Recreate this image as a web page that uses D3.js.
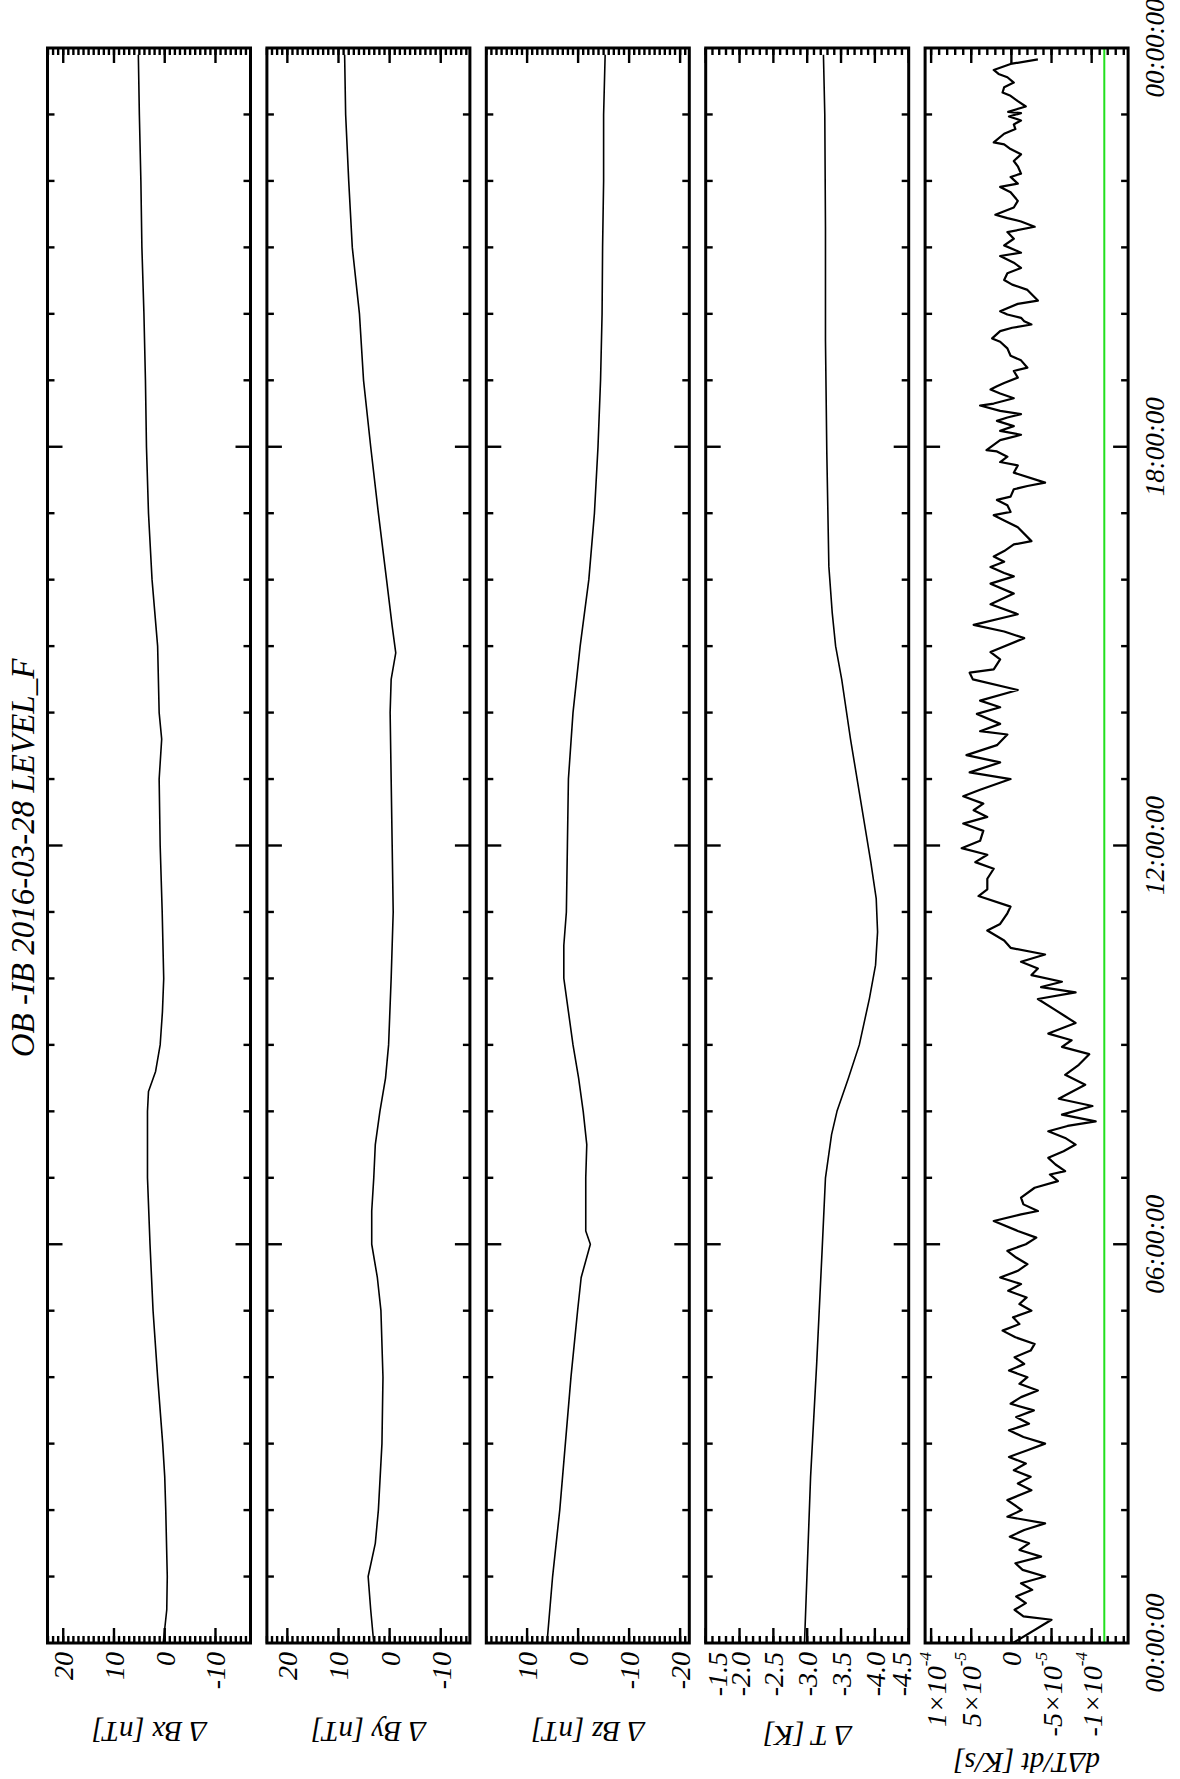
<!DOCTYPE html>
<html><head><meta charset="utf-8">
<script src="https://cdn.jsdelivr.net/npm/d3@7"></script>
<style>
body{margin:0;background:#fff}
svg{display:block}
text{font-family:"Liberation Serif","Times New Roman",serif;font-style:italic;fill:#000}
</style>
</head><body>
<svg id="c" width="1180" height="1779"></svg>
<script>
// ---------------- data ----------------
const titleText = "OB -IB  2016-03-28 LEVEL_F";
const timeTickHours = [0, 6, 12, 18, 24];
const timeTickLabels = ["00:00:00", "06:00:00", "12:00:00", "18:00:00", "00:00:00"];

const bxHours  = [0,0.5,1,2,2.5,3,4,5,6,7,8,8.3,8.6,9,9.5,10,11,12,13,13.6,14,15,16,17,18,19,20,21,22,23,23.9];
const bxValues = [0.3,-0.4,-0.5,-0.2,0,0.4,1.4,2.3,2.9,3.4,3.4,3.2,1.8,0.9,0.45,0.2,0.5,0.9,1.1,0.6,1.1,1.4,2.5,3.2,3.6,3.8,4.1,4.5,4.7,5.0,5.2];

const byHours  = [0,0.5,1,1.5,2,3,4,5,5.5,6,6.5,7,7.5,8,8.5,9,10,11,12,13,14,14.5,14.9,15.3,16,17,18,19,20,21,22,23,23.9];
const byValues = [3.1,3.7,4.2,2.8,2.2,1.5,1.3,1.7,2.4,3.5,3.5,3.1,2.8,1.9,0.8,0.2,-0.3,-0.7,-0.5,-0.3,-0.1,-0.3,-1.2,-0.5,0.6,2.2,3.7,5.1,5.9,7.3,8.0,8.6,8.8];

const bzHours  = [0,1,2,3,4,5,5.5,6,6.2,7,7.5,8,8.5,9,9.5,10,10.5,11,12,13,14,15,16,17,18,19,20,21,22,23,23.9];
const bzValues = [6.1,5.0,3.6,2.5,1.4,0.1,-0.6,-2.4,-1.5,-1.5,-1.7,-1.0,-0.1,1.0,1.9,2.8,2.8,2.3,2.1,1.9,1.0,-0.4,-2.1,-3.2,-3.9,-4.4,-4.7,-4.8,-5.0,-5.0,-5.3];

const tHours  = [0,2.5,4.2,5.9,7,7.65,8,8.5,9,9.7,10.2,10.7,11.2,11.75,12.8,13.6,14.5,15,15.5,16.2,17.9,19.6,21.3,23,23.9];
const tValues = [-2.96,-3.05,-3.14,-3.22,-3.27,-3.36,-3.44,-3.61,-3.77,-3.92,-4.01,-4.04,-4.02,-3.94,-3.77,-3.64,-3.51,-3.42,-3.37,-3.32,-3.29,-3.27,-3.27,-3.26,-3.24];

// dT/dt in units of 1e-5 K/s
const dtScaleUnit = 1e-5;
const dtHours = [0,0.35,0.4,0.5,0.6,0.7,0.8,0.9,1.0,1.1,1.2,1.3,1.4,1.5,1.6,1.7,1.8,1.9,2.0,2.15,2.3,2.4,2.5,2.6,2.7,2.8,2.9,3.0,3.1,3.2,3.3,3.4,3.5,3.6,3.7,3.8,3.9,4.0,4.1,4.2,4.3,4.4,4.5,4.6,4.7,4.8,4.9,5.0,5.1,5.2,5.3,5.4,5.5,5.6,5.7,5.8,5.9,6.0,6.1,6.2,6.35,6.45,6.5,6.6,6.7,6.85,6.95,7.05,7.1,7.2,7.3,7.4,7.5,7.6,7.7,7.78,7.85,7.95,8.08,8.19,8.4,8.55,8.7,8.86,8.97,9.07,9.17,9.33,9.43,9.53,9.69,9.79,9.87,9.95,10.05,10.15,10.25,10.36,10.46,10.57,10.72,10.82,10.98,11.08,11.24,11.34,11.5,11.65,11.75,11.86,11.96,12.07,12.22,12.33,12.43,12.53,12.63,12.74,12.84,13.0,13.1,13.25,13.36,13.51,13.67,13.72,13.83,13.98,14.08,14.18,14.34,14.5,14.6,14.65,14.8,14.91,15.12,15.22,15.32,15.48,15.63,15.79,15.94,16.05,16.1,16.19,16.27,16.35,16.43,16.53,16.58,16.79,16.89,16.97,17.02,17.12,17.2,17.25,17.36,17.41,17.46,17.61,17.72,17.77,17.85,17.93,17.95,18.1,18.18,18.24,18.31,18.39,18.44,18.49,18.54,18.62,18.65,18.73,18.8,18.86,18.91,18.96,19.04,19.14,19.19,19.3,19.37,19.48,19.58,19.63,19.74,19.79,19.84,19.89,19.94,19.99,20.04,20.15,20.2,20.36,20.44,20.51,20.61,20.69,20.77,20.87,20.92,21.03,21.13,21.23,21.31,21.39,21.44,21.49,21.6,21.7,21.83,21.91,21.96,22.06,22.11,22.22,22.3,22.4,22.48,22.55,22.58,22.71,22.78,22.85,22.91,22.97,23.02,23.04,23.12,23.2,23.28,23.33,23.41,23.48,23.56,23.61,23.67,23.76,23.83];
const dtValues = [-0.2,-5.0,-1.5,-0.4,-1.8,-0.6,-2.6,-1.2,-4.2,-1.4,-0.5,-3.7,-1.0,-2.2,0.2,-1.6,-4.2,0.5,-1.3,0.5,-2.5,-0.8,-2.4,-0.3,-1.8,0.3,-2.0,-4.2,-1.5,0.3,-2.2,-0.6,-2.8,0.1,-1.2,-3.3,-1.0,-2.0,0.3,-1.6,-0.4,-2.4,-2.9,-0.5,1.1,-1.0,-0.2,-2.5,-1.0,-1.9,0.4,-1.2,1.4,-0.8,-2.0,-0.6,0.5,-1.8,-3.1,-0.8,2.2,-1.2,-3.3,-1.5,-1.2,-2.9,-5.8,-4.8,-6.7,-5.5,-4.6,-6.5,-8.0,-6.7,-4.6,-7.0,-10.5,-6.3,-10.1,-5.9,-9.2,-6.7,-8.4,-9.7,-6.3,-7.5,-4.6,-8.0,-6.7,-5.4,-3.3,-8.0,-3.7,-6.3,-2.5,-3.3,-1.2,-4.2,0.1,0.9,3.0,1.4,0.5,0.1,4.1,3.0,3.0,2.2,4.5,3.0,6.2,3.9,3.5,6.0,3.0,4.7,3.5,6.0,3.9,0.1,5.2,1.4,5.6,1.8,0.5,3.9,1.4,4.3,1.4,3.9,-0.8,4.8,5.2,2.2,1.4,2.6,-1.6,0.9,4.7,-0.8,2.6,-0.3,2.6,-0.3,0.9,2.6,0.9,2.2,0.9,-0.3,-2.5,-0.8,0.9,2.2,0.1,0.5,1.8,0.1,-0.3,-2.0,-4.2,-0.3,-0.8,1.4,0.5,1.8,3.1,1.4,-1.2,1.4,-0.3,1.8,0.5,-1.2,1.4,3.9,2.2,-0.3,1.4,2.6,1.8,0.9,-0.8,-0.3,-2.0,-1.2,0.1,0.5,1.4,2.4,1.4,-0.1,-2.5,-1.6,-1.2,0.5,1.4,-0.8,-3.3,-2.0,-0.1,0.9,0.5,-1.2,-0.3,1.4,-1.2,0.9,-0.3,0.5,-2.9,-1.2,0.5,2.0,-0.3,-0.8,0.1,1.4,-0.8,0.1,-1.2,-0.8,-0.3,-1.2,0.1,0.9,2.2,0.9,-0.5,-0.3,-1.2,0.3,-1.2,0.4,-1.8,-0.8,0.1,1.1,0.9,-0.3,0.5,1.6,2.2,0.1,-3.3];
const dtThreshold = -10 / 86400; // -10 K/day

// y-axis ranges, tick values and labels
const bxDomain = [-16.9, 23.1], byDomain = [-15.7, 24.0], bzDomain = [-21.8, 18.0];
const tDomain = [-4.5, -1.5], dtDomain = [-1.454e-4, 1.075e-4];
const bxTicks = [20, 10, 0, -10], byTicks = [20, 10, 0, -10], bzTicks = [10, 0, -10, -20];
const tTicks = [-1.5, -2.0, -2.5, -3.0, -3.5, -4.0, -4.5];
const tTickLabels = ["-1.5", "-2.0", "-2.5", "-3.0", "-3.5", "-4.0", "-4.5"];
const dtTicks = [1e-4, 5e-5, 0, -5e-5, -1e-4];
const dtTickMant = ["1×10", "5×10", "0", "-5×10", "-1×10"];
const dtTickExp  = ["-4", "-5", "", "-5", "-4"];
const yTitles = ["Δ Bx [nT]", "Δ By [nT]", "Δ Bz [nT]", "Δ T [K]", "dΔT/dt [K/s]"];

// ---------------- layout ----------------
const W = 1779, H = 1180;           // landscape frame, rotated onto the page
const xL = 136, xR = 1731;
const panelTop0 = 47.5, panelStep = 219.4, panelH = 203;

const svg = d3.select("#c");
const root = svg.append("g").attr("transform", `translate(0,${W}) rotate(-90)`);
const x = d3.scaleLinear().domain([0, 24]).range([xL, xR]);

root.append("text").attr("x", 921).attr("y", 34).attr("text-anchor", "middle")
  .attr("font-size", 33).text(titleText);

function stepTicks(dom, step) {
  const lo = Math.min(dom[0], dom[1]), hi = Math.max(dom[0], dom[1]);
  return d3.range(Math.ceil(lo / step - 1e-9), Math.floor(hi / step + 1e-9) + 1).map(k => k * step);
}

const panels = [
  {hours: bxHours, vals: bxValues, domain: bxDomain, major: bxTicks, labels: bxTicks.map(String), minor: 1, titleX: 57, lw: 1.6},
  {hours: byHours, vals: byValues, domain: byDomain, major: byTicks, labels: byTicks.map(String), minor: 1, titleX: 57, lw: 1.6},
  {hours: bzHours, vals: bzValues, domain: bzDomain, major: bzTicks, labels: bzTicks.map(String), minor: 1, titleX: 57, lw: 1.6},
  {hours: tHours, vals: tValues, domain: tDomain, major: tTicks, labels: tTickLabels, minor: 0.1, titleX: 53, lw: 1.6},
  {hours: dtHours, vals: dtValues.map(v => v * dtScaleUnit), domain: dtDomain, major: dtTicks, labels: dtTickMant, exps: dtTickExp, minor: 1e-5, titleX: 26, lw: 2.2}
];

panels.forEach((p, i) => {
  const top = panelTop0 + i * panelStep, bot = top + panelH;
  const y = d3.scaleLinear().domain(p.domain).range([bot, top]);
  const g = root.append("g");
  const clipId = "clip" + i;
  g.append("clipPath").attr("id", clipId).append("rect")
    .attr("x", xL).attr("y", top).attr("width", xR - xL).attr("height", panelH);

  if (i === 4) {
    g.append("line").attr("x1", xL).attr("x2", xR).attr("y1", y(dtThreshold)).attr("y2", y(dtThreshold))
      .attr("stroke", "#22e01e").attr("stroke-width", 2);
  }
  const line = d3.line().x((d, k) => x(p.hours[k])).y(d => y(d));
  g.append("path").attr("d", line(p.vals)).attr("fill", "none").attr("stroke", "#000")
    .attr("stroke-width", p.lw).attr("stroke-linejoin", "round").attr("clip-path", `url(#${clipId})`);

  const tk = g.append("g").attr("stroke", "#000").attr("stroke-width", 2.4);
  d3.range(1, 24).forEach(h => {
    const len = h % 6 === 0 ? 15 : 7, X = x(h);
    tk.append("line").attr("x1", X).attr("x2", X).attr("y1", top).attr("y2", top + len);
    tk.append("line").attr("x1", X).attr("x2", X).attr("y1", bot).attr("y2", bot - len);
  });
  stepTicks(p.domain, p.minor).forEach(v => {
    const Y = y(v);
    tk.append("line").attr("x1", xL).attr("x2", xL + 7).attr("y1", Y).attr("y2", Y);
    tk.append("line").attr("x1", xR).attr("x2", xR - 7).attr("y1", Y).attr("y2", Y);
  });
  p.major.forEach((v, k) => {
    const Y = y(v);
    tk.append("line").attr("x1", xL).attr("x2", xL + 15).attr("y1", Y).attr("y2", Y);
    tk.append("line").attr("x1", xR).attr("x2", xR - 15).attr("y1", Y).attr("y2", Y);
    const ly = Math.max(top + 11, Math.min(bot - 8, Y));
    const t = g.append("text").attr("x", 127).attr("y", ly).attr("text-anchor", "end")
      .attr("dominant-baseline", "central").attr("font-size", 28);
    t.append("tspan").text(p.labels[k]);
    if (p.exps && p.exps[k]) {
      t.append("tspan").attr("font-size", 17).attr("dy", -11).text(p.exps[k]);
    }
  });
  g.append("rect").attr("x", xL).attr("y", top).attr("width", xR - xL).attr("height", panelH)
    .attr("fill", "none").attr("stroke", "#000").attr("stroke-width", 3);
  g.append("text").attr("transform", `translate(${p.titleX},${(top + bot) / 2}) rotate(-90)`)
    .attr("text-anchor", "middle").attr("font-size", 29).text(yTitles[i]);

  if (i === 4) {
    timeTickHours.forEach((h, k) => {
      g.append("text").attr("x", x(h)).attr("y", 1164).attr("text-anchor", "middle")
        .attr("font-size", 27).text(timeTickLabels[k]);
    });
  }
});
</script>
</body></html>
